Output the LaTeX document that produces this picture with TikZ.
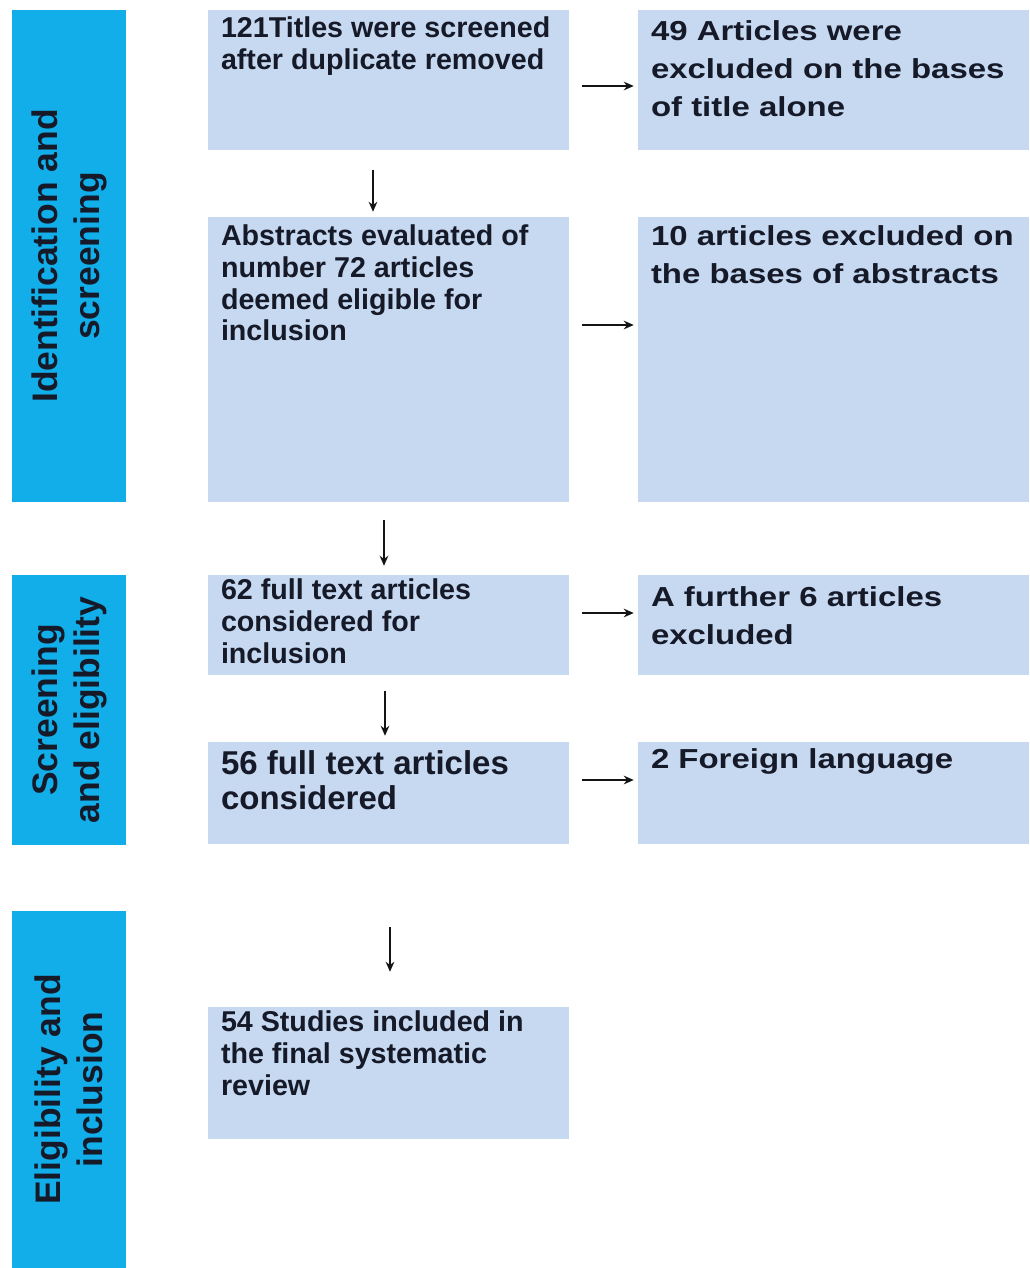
\documentclass[tikz,border=0pt]{standalone}
\usepackage{fontspec}
\setmainfont{Liberation Sans}
\newfontfamily\widesans{Liberation Sans}[FakeStretch=1.2]
\usepackage{tikz}
\usetikzlibrary{arrows.meta,calc}

\begin{document}
\begin{tikzpicture}[x=0.75pt,y=0.75pt,yscale=-1,xscale=1,
    phase/.style={fill={rgb, 255:red, 18; green, 174; blue, 234 }, inner sep=0pt, minimum width=85.5pt},
    stage/.style={fill={rgb, 255:red, 198; green, 217; blue, 241 }, inner sep=0pt, minimum width=270.75pt},
    excl/.style={fill={rgb, 255:red, 198; green, 217; blue, 241 }, inner sep=0pt, minimum width=293.25pt},
    phaselabel/.style={rotate=90, align=center, inner sep=0pt, text={rgb, 255:red, 22; green, 26; blue, 40 }, font=\bfseries\fontsize{26.6}{31.5}\selectfont},
    stagetext/.style={anchor=north west, align=left, inner sep=0pt, text={rgb, 255:red, 22; green, 26; blue, 40 }, font=\bfseries\fontsize{21.5}{23.8}\selectfont},
    excltext/.style={stagetext, font=\widesans\bfseries\fontsize{20.6}{28.5}\selectfont},
    flow/.style={-{Stealth[length=7.5pt,width=6.5pt]}, line width=1.2pt, color={rgb, 255:red, 20; green, 20; blue, 20 }},
  ]
\path[use as bounding box, fill=white] (0,0) rectangle (1029,1268);

%Shape: Rectangle (phases)
\node[phase, minimum height=369pt] (idscr) at (69,256) {};
\node[phase, minimum height=202.5pt] (screlig) at (69,710) {};
\node[phase, minimum height=267.75pt] (eligincl) at (69,1089.5) {};

% Text Node
\node[phaselabel] (idscrlabel) at (idscr) {Identification and\\screening};
% Text Node
\node[phaselabel] (screliglabel) at (screlig) {Screening\\and eligibility};
% Text Node
\node[phaselabel] (eligincllabel) at (eligincl) {Eligibility and\\inclusion};

%Shape: Rectangle (left column)
\node[stage, minimum height=105pt] (titles) at (388.5,80) {};
\node[stage, minimum height=213.75pt] (abstracts) at (388.5,359.5) {};
\node[stage, minimum height=75pt] (fulltext) at (388.5,625) {};
\node[stage, minimum height=76.5pt] (considered) at (388.5,793) {};
\node[stage, minimum height=99pt] (included) at (388.5,1073) {};

%Shape: Rectangle (right column)
\node[excl, minimum height=105pt] (titleexcl) at (833.5,80) {};
\node[excl, minimum height=213.75pt] (abstractexcl) at (833.5,359.5) {};
\node[excl, minimum height=75pt] (furtherexcl) at (833.5,625) {};
\node[excl, minimum height=76.5pt] (foreign) at (833.5,793) {};

% Text Node
\node[stagetext] (titlestext) at ($(titles.north west)+(13,7)$) {121Titles were screened\\after duplicate removed};
% Text Node
\node[stagetext] (abstractstext) at ($(abstracts.north west)+(13,8)$) {Abstracts evaluated of\\number 72 articles\\deemed eligible for\\inclusion};
% Text Node
\node[stagetext] (fulltexttext) at ($(fulltext.north west)+(13,4)$) {62 full text articles\\considered for\\inclusion};
% Text Node
\node[stagetext, font=\bfseries\fontsize{24.75}{26.25}\selectfont] (consideredtext) at ($(considered.north west)+(13,9)$) {56 full text articles\\considered};
% Text Node
\node[stagetext] (includedtext) at ($(included.north west)+(13,4)$) {54 Studies included in\\the final systematic\\review};

% Text Node
\node[excltext] (titleexcltext) at ($(titleexcl.north west)+(13,11)$) {49 Articles were\\excluded on the bases\\of title alone};
% Text Node
\node[excltext] (abstractexcltext) at ($(abstractexcl.north west)+(13,9)$) {10 articles excluded on\\the bases of abstracts};
% Text Node
\node[excltext] (furtherexcltext) at ($(furtherexcl.north west)+(13,12)$) {A further 6 articles\\excluded};
% Text Node
\node[excltext] (foreigntext) at ($(foreign.north west)+(13,7)$) {2 Foreign language};

%Straight Lines
\draw[flow, shorten <=9.75pt, shorten >=3pt] ($(titles.east)+(0,6)$) -- ($(titleexcl.west)+(0,6)$);
\draw[flow, shorten <=9.75pt, shorten >=3pt] ($(abstracts.east)+(0,-34.5)$) -- ($(abstractexcl.west)+(0,-34.5)$);
\draw[flow, shorten <=9.75pt, shorten >=3pt] ($(fulltext.east)+(0,-12)$) -- ($(furtherexcl.west)+(0,-12)$);
\draw[flow, shorten <=9.75pt, shorten >=3pt] ($(considered.east)+(0,-13)$) -- ($(foreign.west)+(0,-13)$);

%Straight Lines
\draw[flow, shorten <=15pt, shorten >=3.75pt] ($(titles.south)+(-15.5,0)$) -- ($(abstracts.north)+(-15.5,0)$);
\draw[flow, shorten <=13.5pt, shorten >=6.75pt] ($(abstracts.south)+(-4.5,0)$) -- ($(fulltext.north)+(-4.5,0)$);
\draw[flow, shorten <=12pt, shorten >=4.5pt] ($(fulltext.south)+(-3.5,0)$) -- ($(considered.north)+(-3.5,0)$);
\draw[flow, shorten <=62.25pt, shorten >=26.25pt] ($(considered.south)+(1.5,0)$) -- ($(included.north)+(1.5,0)$);

\end{tikzpicture}
\end{document}
